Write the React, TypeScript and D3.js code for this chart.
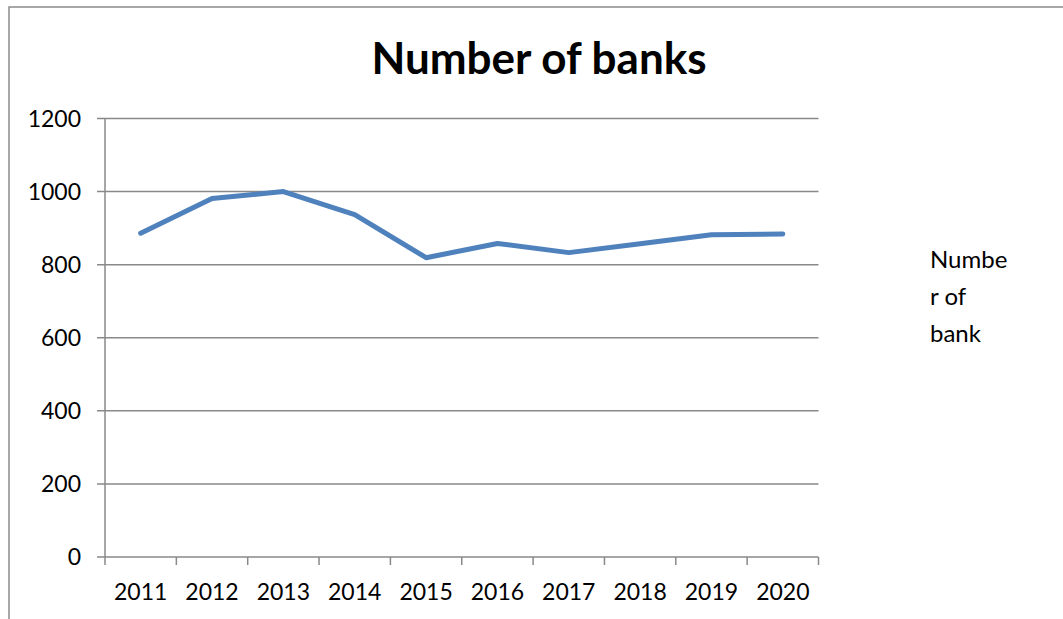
import React from "react";
import * as d3 from "d3";

const years = ["2011", "2012", "2013", "2014", "2015", "2016", "2017", "2018", "2019", "2020"];
const banks = [886, 981, 1000, 937, 819, 858, 833, 857, 882, 884];
const yTicks = [0, 200, 400, 600, 800, 1000, 1200];
const legendLines = ["Numbe", "r of", "bank"];

export default function App() {
  const W = 1063, H = 619;
  const left = 105, right = 818.5, top = 118.5, bottom = 557;
  const x = d3.scaleBand<string>().domain(years).range([left, right]);
  const y = d3.scaleLinear().domain([0, 1200]).range([bottom, top]);
  const line = d3.line<number>()
    .x((_, i) => (x(years[i]) as number) + x.bandwidth() / 2)
    .y((d) => y(d));
  const font = "Lato, 'Open Sans', sans-serif";
  const grid = "#898989";
  return (
    <svg width={W} height={H} style={{ position: "absolute", left: 0, top: 0 }}>
      <rect x={0} y={0} width={W} height={H} fill="#fff" />
      <rect x={9} y={7} width={W + 20} height={H + 20} fill="none" stroke="#8c8c8c" strokeWidth={1.5} />
      <text x={539} y={74} textAnchor="middle" fontFamily={font} fontWeight="bold" fontSize={44} fill="#000">
        Number of banks
      </text>
      {yTicks.map((t) => (
        <g key={t}>
          <line x1={left - 8} x2={right} y1={y(t)} y2={y(t)} stroke={grid} strokeWidth={1.5} />
          <text x={81} y={y(t) + 8} textAnchor="end" fontFamily={font} fontSize={23} fill="#000">
            {t}
          </text>
        </g>
      ))}
      <line x1={left} x2={left} y1={top} y2={bottom + 8} stroke={grid} strokeWidth={1.5} />
      {years.map((yr) => (
        <line key={"t" + yr} x1={(x(yr) as number) + x.bandwidth()} x2={(x(yr) as number) + x.bandwidth()} y1={bottom} y2={bottom + 8} stroke={grid} strokeWidth={1.5} />
      ))}
      {years.map((yr) => (
        <text key={yr} x={(x(yr) as number) + x.bandwidth() / 2} y={600} textAnchor="middle" fontFamily={font} fontSize={23} fill="#000">
          {yr}
        </text>
      ))}
      <path d={line(banks) || ""} fill="none" stroke="#4F81BD" strokeWidth={5} strokeLinecap="round" strokeLinejoin="round" />
      {legendLines.map((l, i) => (
        <text key={i} x={930} y={268 + i * 37} fontFamily={font} fontSize={24} fill="#000">
          {l}
        </text>
      ))}
    </svg>
  );
}
